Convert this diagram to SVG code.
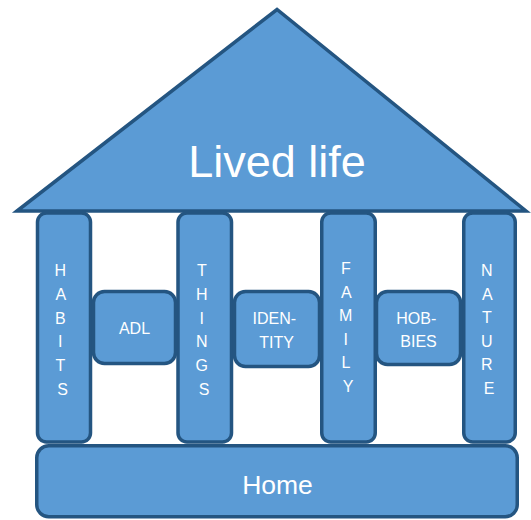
<svg xmlns="http://www.w3.org/2000/svg" width="531" height="520" viewBox="0 0 531 520">
  <style>
    .part { fill: #5B9BD5; stroke: #245581; stroke-width: 3.5; }
    .lbl { fill: #FFFFFF; font-family: "Liberation Sans", Arial, sans-serif; text-anchor: middle; }
    .col { font-size: 16px; }
    .box { font-size: 16px; }
  </style>

  <!-- pillars -->
  <g id="pillar-habits">
    <rect class="part" x="37.5" y="213" width="53" height="229" rx="9"/>
    <text class="lbl col">
      <tspan x="62.5" y="276">H</tspan>
      <tspan x="62.5" y="299.8">A</tspan>
      <tspan x="62.5" y="323.6">B</tspan>
      <tspan x="62.5" y="347.4">I</tspan>
      <tspan x="62.5" y="371.2">T</tspan>
      <tspan x="62.5" y="395">S</tspan>
    </text>
  </g>
  <g id="pillar-things">
    <rect class="part" x="178" y="213" width="53.5" height="229" rx="9"/>
    <text class="lbl col">
      <tspan x="204" y="276">T</tspan>
      <tspan x="204" y="299.8">H</tspan>
      <tspan x="204" y="323.6">I</tspan>
      <tspan x="204" y="347.4">N</tspan>
      <tspan x="204" y="371.2">G</tspan>
      <tspan x="204" y="395">S</tspan>
    </text>
  </g>
  <g id="pillar-family">
    <rect class="part" x="321.75" y="213" width="53.5" height="229" rx="9"/>
    <text class="lbl col">
      <tspan x="348" y="274">F</tspan>
      <tspan x="348" y="297.6">A</tspan>
      <tspan x="348" y="321.2">M</tspan>
      <tspan x="348" y="344.8">I</tspan>
      <tspan x="348" y="368.4">L</tspan>
      <tspan x="348" y="392">Y</tspan>
    </text>
  </g>
  <g id="pillar-nature">
    <rect class="part" x="463.75" y="213" width="51.5" height="229" rx="9"/>
    <text class="lbl col">
      <tspan x="489" y="276">N</tspan>
      <tspan x="489" y="299.6">A</tspan>
      <tspan x="489" y="323.2">T</tspan>
      <tspan x="489" y="346.8">U</tspan>
      <tspan x="489" y="370.4">R</tspan>
      <tspan x="489" y="394">E</tspan>
    </text>
  </g>

  <!-- blocks between the pillars -->
  <g id="block-adl">
    <rect class="part" x="93.5" y="291.5" width="82" height="72" rx="11"/>
    <text class="lbl box" x="134.5" y="333.5">ADL</text>
  </g>
  <g id="block-identity">
    <rect class="part" x="234.5" y="291.5" width="85" height="75" rx="11"/>
    <text class="lbl box">
      <tspan x="276.5" y="324">IDEN-</tspan>
      <tspan x="276.5" y="347.5">TITY</tspan>
    </text>
  </g>
  <g id="block-hobbies">
    <rect class="part" x="376.5" y="291.5" width="84" height="73" rx="11"/>
    <text class="lbl box">
      <tspan x="418.5" y="323.5">HOB-</tspan>
      <tspan x="418.5" y="347">BIES</tspan>
    </text>
  </g>

  <!-- roof -->
  <g id="roof">
    <polygon class="part" points="17,211 277,9.5 526,211" stroke-linejoin="miter"/>
    <text class="lbl" x="277" y="177" font-size="45">Lived life</text>
  </g>

  <!-- foundation -->
  <g id="home">
    <rect class="part" x="36.75" y="445.75" width="480.5" height="71" rx="12"/>
    <text class="lbl" x="277.5" y="494" font-size="26.5">Home</text>
  </g>

  <g id="connectors"/>
</svg>
